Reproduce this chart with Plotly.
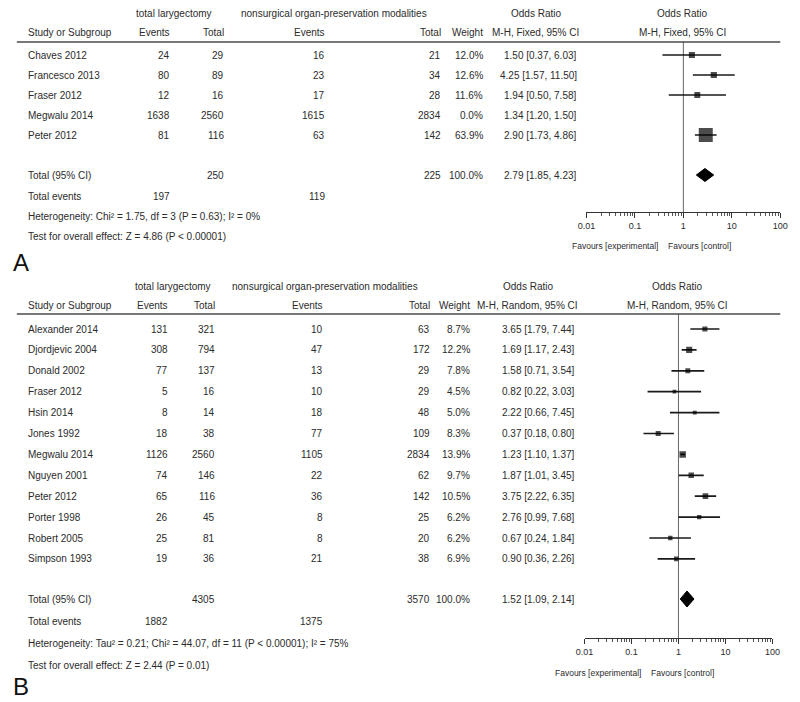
import plotly.graph_objects as go

FONT = "Liberation Sans, Arial, sans-serif"
TXT = "#2b2b2b"
W, H = 800, 702

# ---------------- Panel A data (M-H, Fixed) ----------------
a_studies = ["Chaves 2012", "Francesco 2013", "Fraser 2012", "Megwalu 2014", "Peter 2012"]
a_tl_events = [24, 80, 12, 1638, 81]
a_tl_total = [29, 89, 16, 2560, 116]
a_ns_events = [16, 23, 17, 1615, 63]
a_ns_total = [21, 34, 28, 2834, 142]
a_weight = [12.0, 12.6, 11.6, 0.0, 63.9]
a_or = [1.50, 4.25, 1.94, 1.34, 2.90]
a_lo = [0.37, 1.57, 0.50, 1.20, 1.73]
a_hi = [6.03, 11.50, 7.58, 1.50, 4.86]
a_sum_tl_total = 250
a_sum_ns_total = 225
a_sum_tl_events = 197
a_sum_ns_events = 119
a_sum_or, a_sum_lo, a_sum_hi = 2.79, 1.85, 4.23
a_het = "Heterogeneity: Chi² = 1.75, df = 3 (P = 0.63); I² = 0%"
a_test = "Test for overall effect: Z = 4.86 (P < 0.00001)"

# ---------------- Panel B data (M-H, Random) ----------------
b_studies = ["Alexander 2014", "Djordjevic 2004", "Donald 2002", "Fraser 2012", "Hsin 2014",
             "Jones 1992", "Megwalu 2014", "Nguyen 2001", "Peter 2012", "Porter 1998",
             "Robert 2005", "Simpson 1993"]
b_tl_events = [131, 308, 77, 5, 8, 18, 1126, 74, 65, 26, 25, 19]
b_tl_total = [321, 794, 137, 16, 14, 38, 2560, 146, 116, 45, 81, 36]
b_ns_events = [10, 47, 13, 10, 18, 77, 1105, 22, 36, 8, 8, 21]
b_ns_total = [63, 172, 29, 29, 48, 109, 2834, 62, 142, 25, 20, 38]
b_weight = [8.7, 12.2, 7.8, 4.5, 5.0, 8.3, 13.9, 9.7, 10.5, 6.2, 6.2, 6.9]
b_or = [3.65, 1.69, 1.58, 0.82, 2.22, 0.37, 1.23, 1.87, 3.75, 2.76, 0.67, 0.90]
b_lo = [1.79, 1.17, 0.71, 0.22, 0.66, 0.18, 1.10, 1.01, 2.22, 0.99, 0.24, 0.36]
b_hi = [7.44, 2.43, 3.54, 3.03, 7.45, 0.80, 1.37, 3.45, 6.35, 7.68, 1.84, 2.26]
b_sum_tl_total = 4305
b_sum_ns_total = 3570
b_sum_tl_events = 1882
b_sum_ns_events = 1375
b_sum_or, b_sum_lo, b_sum_hi = 1.52, 1.09, 2.14
b_het = "Heterogeneity: Tau² = 0.21; Chi² = 44.07, df = 11 (P < 0.00001); I² = 75%"
b_test = "Test for overall effect: Z = 2.44 (P = 0.01)"

axis_tickvals = [0.01, 0.1, 1, 10, 100]
axis_ticktext = ["0.01", "0.1", "1", "10", "100"]

panels = [
    dict(label="A", method="M-H, Fixed, 95% CI", xa="x", studies=a_studies,
         tl_ev=a_tl_events, tl_tot=a_tl_total, ns_ev=a_ns_events, ns_tot=a_ns_total,
         weight=a_weight, orr=a_or, lo=a_lo, hi=a_hi,
         s_tl_tot=a_sum_tl_total, s_ns_tot=a_sum_ns_total, s_tl_ev=a_sum_tl_events,
         s_ns_ev=a_sum_ns_events, s_or=a_sum_or, s_lo=a_sum_lo, s_hi=a_sum_hi,
         het=a_het, test=a_test,
         # layout (pixels)
         c_study=17, c_tl_ev=167, c_tl_tot=222, c_ns_ev=325, c_ns_tot=443, c_w=486,
         c_or=582, c_or_hdr=538, c_forest=688, c_h1_tl=169, c_h1_ns=332,
         y_h1=13, y_h2=32, y_line=42, y_row0=55, step=20, y_total=175, y_events=196,
         y_het=216, y_test=236, y_axis=212, y_fav=246, fav_split=668, y_label=262,
         dom=(590, 788), diam_h=6.5),
    dict(label="B", method="M-H, Random, 95% CI", xa="x2", studies=b_studies,
         tl_ev=b_tl_events, tl_tot=b_tl_total, ns_ev=b_ns_events, ns_tot=b_ns_total,
         weight=b_weight, orr=b_or, lo=b_lo, hi=b_hi,
         s_tl_tot=b_sum_tl_total, s_ns_tot=b_sum_ns_total, s_tl_ev=b_sum_tl_events,
         s_ns_ev=b_sum_ns_events, s_or=b_sum_or, s_lo=b_sum_lo, s_hi=b_sum_hi,
         het=b_het, test=b_test,
         c_study=17, c_tl_ev=165, c_tl_tot=213, c_ns_ev=323, c_ns_tot=432, c_w=473,
         c_or=580, c_or_hdr=530, c_forest=683, c_h1_tl=168, c_h1_ns=323,
         y_h1=286, y_h2=305, y_line=314, y_row0=329, step=20.9, y_total=599, y_events=621,
         y_het=643, y_test=665, y_axis=638, y_fav=673, fav_split=651, y_label=686,
         dom=(588, 780), diam_h=8),
]

fig = go.Figure()
annotations = []
shapes = []


def txt(x, y, s, anchor="left", size=10, color=TXT):
    annotations.append(dict(x=x / W, y=y, xref="paper", yref="y", text=s, showarrow=False,
                            xanchor=anchor, yanchor="middle",
                            font=dict(family=FONT, size=size, color=color)))


for p in panels:
    xa = p["xa"]
    # header row 1
    txt(p["c_h1_tl"], p["y_h1"], "total larygectomy", "center")
    txt(p["c_h1_ns"], p["y_h1"], "nonsurgical organ-preservation modalities", "center")
    txt(p["c_or_hdr"], p["y_h1"], "Odds Ratio", "center")
    txt(p["c_forest"], p["y_h1"], "Odds Ratio", "center")
    # header row 2
    txt(p["c_study"], p["y_h2"], "Study or Subgroup")
    txt(p["c_tl_ev"], p["y_h2"], "Events", "right")
    txt(p["c_tl_tot"], p["y_h2"], "Total", "right")
    txt(p["c_ns_ev"], p["y_h2"], "Events", "right")
    txt(p["c_ns_tot"], p["y_h2"], "Total", "right")
    txt(p["c_w"], p["y_h2"], "Weight", "right")
    txt(p["c_or_hdr"], p["y_h2"], p["method"], "center")
    txt(p["c_forest"], p["y_h2"], p["method"], "center")
    shapes.append(dict(type="line", xref="paper", yref="y", x0=8 / W, x1=788 / W,
                       y0=p["y_line"], y1=p["y_line"], line=dict(color="#4a4a4a", width=1.6)))

    ys = [p["y_row0"] + i * p["step"] for i in range(len(p["studies"]))]
    for i, name in enumerate(p["studies"]):
        y = ys[i]
        txt(p["c_study"], y, name)
        txt(p["c_tl_ev"], y, str(p["tl_ev"][i]), "right")
        txt(p["c_tl_tot"], y, str(p["tl_tot"][i]), "right")
        txt(p["c_ns_ev"], y, str(p["ns_ev"][i]), "right")
        txt(p["c_ns_tot"], y, str(p["ns_tot"][i]), "right")
        txt(p["c_w"], y, f"{p['weight'][i]:.1f}%", "right")
        txt(p["c_or"], y, f"{p['orr'][i]:.2f} [{p['lo'][i]:.2f}, {p['hi'][i]:.2f}]", "right")

    # totals
    txt(p["c_study"], p["y_total"], "Total (95% CI)")
    txt(p["c_tl_tot"], p["y_total"], str(p["s_tl_tot"]), "right")
    txt(p["c_ns_tot"], p["y_total"], str(p["s_ns_tot"]), "right")
    txt(p["c_w"], p["y_total"], "100.0%", "right")
    txt(p["c_or"], p["y_total"], f"{p['s_or']:.2f} [{p['s_lo']:.2f}, {p['s_hi']:.2f}]", "right")
    txt(p["c_study"], p["y_events"], "Total events")
    txt(p["c_tl_ev"], p["y_events"], str(p["s_tl_ev"]), "right")
    txt(p["c_ns_ev"], p["y_events"], str(p["s_ns_ev"]), "right")
    txt(p["c_study"], p["y_het"], p["het"])
    txt(p["c_study"], p["y_test"], p["test"])
    txt(p["fav_split"] - 3, p["y_fav"], "Favours [experimental]", "right", size=8.5)
    txt(p["fav_split"] + 3, p["y_fav"], "Favours [control]", "left", size=8.5)
    txt(12, p["y_label"], p["label"], "center", size=24, color="#111")

    # reference line at OR = 1
    fig.add_trace(go.Scatter(x=[1, 1], y=[p["y_line"], p["y_axis"]], mode="lines",
                             line=dict(color="#666", width=1), xaxis=xa, yaxis="y",
                             hoverinfo="skip", showlegend=False))
    # CI whiskers
    lx, ly = [], []
    mx, my, ms = [], [], []
    for i in range(len(p["studies"])):
        if p["weight"][i] <= 0:
            continue
        lx += [p["lo"][i], p["hi"][i], None]
        ly += [ys[i], ys[i], None]
        mx.append(p["orr"][i])
        my.append(ys[i])
        ms.append(1.75 * p["weight"][i] ** 0.5)
    fig.add_trace(go.Scatter(x=lx, y=ly, mode="lines", line=dict(color="#1a1a1a", width=1.7),
                             xaxis=xa, yaxis="y", hoverinfo="skip", showlegend=False))
    fig.add_trace(go.Scatter(x=mx, y=my, mode="markers",
                             marker=dict(symbol="square", size=ms, color="#000",
                                         line=dict(width=0)),
                             xaxis=xa, yaxis="y", showlegend=False))
    # pooled diamond
    h = p["diam_h"]
    yt = p["y_total"]
    fig.add_trace(go.Scatter(x=[p["s_lo"], p["s_or"], p["s_hi"], p["s_or"], p["s_lo"]],
                             y=[yt, yt - h, yt, yt + h, yt], mode="lines", fill="toself",
                             fillcolor="#000", line=dict(color="#000", width=1),
                             xaxis=xa, yaxis="y", showlegend=False))

minor_vals = [m * 10 ** k for k in (-2, -1, 0, 1) for m in range(2, 10)]


def forest_axis(p):
    return dict(type="log", range=[-2, 2], domain=[p["dom"][0] / W, p["dom"][1] / W],
                anchor="free", position=1 - p["y_axis"] / H, showline=True,
                linecolor="#333", linewidth=1.4, ticks="outside", ticklen=5, tickwidth=1.4,
                tickcolor="#333", tickmode="array", tickvals=axis_tickvals,
                ticktext=axis_ticktext, showgrid=False, zeroline=False,
                tickfont=dict(family=FONT, size=9, color=TXT),
                minor=dict(tickmode="array", tickvals=minor_vals, ticks="outside",
                           ticklen=3, tickcolor="#555", showgrid=False),
                fixedrange=True)


fig.update_layout(
    width=W, height=H, margin=dict(l=0, r=0, t=0, b=0),
    paper_bgcolor="white", plot_bgcolor="rgba(0,0,0,0)",
    xaxis=forest_axis(panels[0]),
    xaxis2=forest_axis(panels[1]),
    yaxis=dict(range=[H, 0], domain=[0, 1], visible=False, fixedrange=True),
    annotations=annotations, shapes=shapes, showlegend=False,
    font=dict(family=FONT, color=TXT),
)

fig.write_html("out.html", config={"displayModeBar": False},
               post_script="document.body.style.margin='0px';document.body.style.overflow='hidden';")
